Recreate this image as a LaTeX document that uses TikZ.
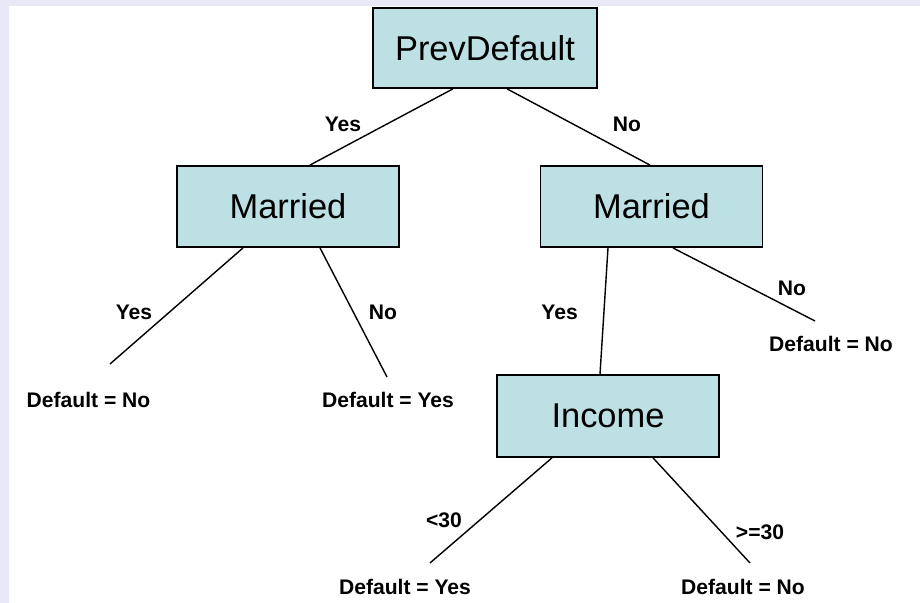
\documentclass[tikz,border=0pt]{standalone}
\usepackage{fontspec}
\setmainfont{Liberation Sans}
\definecolor{dtfill}{HTML}{BCE0E3}
\definecolor{dtback}{HTML}{E8E8F6}
\usepackage{tikz}
\usetikzlibrary{positioning, calc}

\begin{document}
\begin{tikzpicture}[
    treebox/.style={draw=black, line width=1.2pt, fill=dtfill, minimum width=5.55cm,
                 minimum height=2.03cm, inner sep=0pt, font=\fontsize{24.5}{29}\selectfont},
    edgelbl/.style={font=\fontsize{15}{18}\selectfont\bfseries, inner sep=1pt},
    leaflbl/.style={font=\fontsize{15}{18}\selectfont\bfseries, inner sep=1pt},
    branch/.style={line width=1pt, black},
  ]
    % page frame
    \useasboundingbox (0,0) rectangle (23,15.075);
    \fill[dtback] (0,0) rectangle (23,15.075);
    \fill[white] (0.225,0) rectangle (23,14.925);

    % decision nodes
    \node[treebox, minimum width=5.6cm, minimum height=2.0cm] (prev) at (12.125,13.875) {PrevDefault};
    \node[treebox] (marl) at (7.2,9.9125) {Married};
    \node[treebox] (marr) at (16.2875,9.9125) {Married};
    \node[treebox, minimum height=2.05cm] (inc) at (15.2,4.675) {Income};

    % leaves
    \node[leaflbl] (lfa) at (2.2125,5.075) {Default = No};
    \node[leaflbl] (lfb) at (9.7,5.075) {Default = Yes};
    \node[leaflbl] (lfc) at (20.775,6.475) {Default = No};
    \node[leaflbl] (lfd) at (10.125,0.4) {Default = Yes};
    \node[leaflbl] (lfe) at (18.575,0.4) {Default = No};

    % branches
    \draw[branch] ([xshift=-0.8cm]prev.south) -- ([xshift=0.55cm]marl.north);
    \draw[branch] ([xshift=0.55cm]prev.south) -- ([xshift=-0.04cm]marr.north);
    \draw[branch] ([xshift=-1.125cm]marl.south) -- ([shift={(0.5375,0.9)}]lfa.center);
    \draw[branch] ([xshift=0.8cm]marl.south) -- ([shift={(-0.025,0.575)}]lfb.center);
    \draw[branch] ([xshift=-1.0875cm]marr.south) -- ([xshift=-0.2cm]inc.north);
    \draw[branch] ([xshift=0.5375cm]marr.south) -- ([shift={(-0.4,0.575)}]lfc.center);
    \draw[branch] ([xshift=-1.4cm]inc.south) -- ([shift={(0.625,0.6)}]lfd.center);
    \draw[branch] ([xshift=1.125cm]inc.south) -- ([shift={(0.175,0.6)}]lfe.center);

    % branch labels
    \node[edgelbl] (ya) at (8.575,11.975) {Yes};
    \node[edgelbl] (na) at (15.675,11.975) {No};
    \node[edgelbl] (yb) at (3.35,7.275) {Yes};
    \node[edgelbl] (nb) at (9.575,7.275) {No};
    \node[edgelbl] (yc) at (13.99,7.275) {Yes};
    \node[edgelbl] (nc) at (19.8,7.875) {No};
    \node[edgelbl] (lt) at (11.1,2.075) {<30};
    \node[edgelbl] (ge) at (19.0,1.775) {>=30};
\end{tikzpicture}
\end{document}
